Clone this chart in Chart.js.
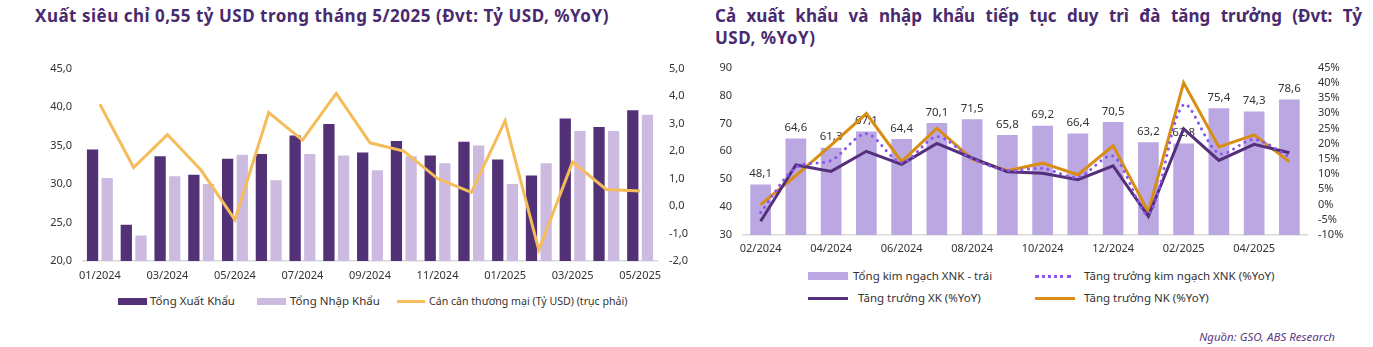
<!DOCTYPE html>
<html>
<head>
<meta charset="utf-8">
<script src="https://cdn.jsdelivr.net/npm/chart.js@4.4.1/dist/chart.umd.min.js"></script>
<style>
  html, body { margin: 0; padding: 0; background: #fff; }
  body { width: 1373px; height: 347px; position: relative; overflow: hidden; font-family: "Noto Sans", sans-serif; color: #333; }
  .title { position: absolute; font-weight: 700; font-size: 17px; letter-spacing: 0.5px; color: #4A2A6E; line-height: 22px; white-space: nowrap; }
  .cv { position: absolute; }
  .lg { position: absolute; font-size: 11px; line-height: 14px; white-space: nowrap; color: #333; }
  .lg.r { font-size: 11.5px; }
  .mk { position: absolute; }
  .src { position: absolute; right: 38px; top: 329px; font-size: 11.5px; font-style: italic; color: #5B3A85; }
</style>
</head>
<body>
<div class="title" style="left:35px; top:5px;">Xuất siêu chỉ 0,55 tỷ USD trong tháng 5/2025 (Đvt: Tỷ USD, %YoY)</div>
<div class="title" style="left:715px; top:5px; width:647px; letter-spacing:0; text-align:justify; text-align-last:justify;">Cả xuất khẩu và nhập khẩu tiếp tục duy trì đà tăng trưởng (Đvt: Tỷ</div>
<div class="title" style="left:715px; top:27px;">USD, %YoY)</div>

<canvas id="left" class="cv" style="left:0; top:50px;" width="700" height="240"></canvas>
<canvas id="right" class="cv" style="left:700px; top:50px;" width="673" height="215"></canvas>

<!-- left legend -->
<div class="mk" style="left:118px; top:298px; width:29px; height:7px; background:#533177;"></div>
<div class="lg" style="left:150px; top:294px; font-size:11.5px;">Tổng Xuất Khẩu</div>
<div class="mk" style="left:257px; top:298px; width:29px; height:7px; background:#CDBAE1;"></div>
<div class="lg" style="left:290px; top:294px; font-size:11.5px;">Tổng Nhập Khẩu</div>
<div class="mk" style="left:397px; top:300px; width:28px; height:3px; background:#F5BC5C;"></div>
<div class="lg" style="left:429px; top:294px; font-size:10.6px;">Cán cân thương mại (Tỷ USD) (trục phải)</div>

<!-- right legend -->
<div class="mk" style="left:808px; top:272px; width:40px; height:8px; background:#BBA7E2;"></div>
<div class="lg r" style="left:853px; top:269px;">Tổng kim ngạch XNK - trái</div>
<div class="mk" style="left:1035px; top:275px; width:36px; height:0; border-top:3px dotted #8A57EE;"></div>
<div class="lg r" style="left:1084px; top:269px;">Tăng trưởng kim ngạch XNK (%YoY)</div>
<div class="mk" style="left:808px; top:297px; width:40px; height:3px; background:#54307A;"></div>
<div class="lg r" style="left:858px; top:291px;">Tăng trưởng XK (%YoY)</div>
<div class="mk" style="left:1035px; top:297px; width:40px; height:3px; background:#D78E12;"></div>
<div class="lg r" style="left:1084px; top:291px;">Tăng trưởng NK (%YoY)</div>

<div class="src">Nguồn: GSO, ABS Research</div>

<script>
// left chart: monthly trade, bn USD
const monthsL = ["01/2024", "02/2024", "03/2024", "04/2024", "05/2024", "06/2024", "07/2024", "08/2024", "09/2024",
  "10/2024", "11/2024", "12/2024", "01/2025", "02/2025", "03/2025", "04/2025", "05/2025"];
const exportsL = [34.5, 24.7, 33.6, 31.2, 33.3, 33.9, 36.3, 37.8, 34.1, 35.6, 33.7, 35.5, 33.2, 31.1, 38.5, 37.4, 39.6];
const importsL = [30.8, 23.3, 31.0, 30.0, 33.8, 30.5, 33.9, 33.7, 31.8, 33.6, 32.7, 35.0, 30.0, 32.7, 36.9, 36.9, 39.0];
const balanceL = [3.7, 1.4, 2.6, 1.3, -0.5, 3.4, 2.4, 4.1, 2.3, 2.0, 1.0, 0.5, 3.1, -1.6, 1.6, 0.6, 0.55];

// right chart: total turnover + growth %YoY
const monthsR = ["02/2024", "03/2024", "04/2024", "05/2024", "06/2024", "07/2024", "08/2024", "09/2024",
  "10/2024", "11/2024", "12/2024", "01/2025", "02/2025", "03/2025", "04/2025", "05/2025"];
const totalR = [48.1, 64.6, 61.3, 67.1, 64.4, 70.1, 71.5, 65.8, 69.2, 66.4, 70.5, 63.2, 62.8, 75.4, 74.3, 78.6];
const growthXK = [-5.5, 13.0, 10.9, 17.5, 13.2, 20.1, 15.3, 10.8, 10.3, 8.2, 12.7, -3.9, 24.9, 14.5, 19.8, 17.0];
const growthNK = [0.0, 9.5, 19.5, 29.9, 14.1, 25.1, 14.9, 11.1, 13.6, 9.8, 19.3, -2.4, 40.0, 18.9, 22.9, 14.1];
const growthXNK = [-2.6, 12.2, 14.5, 23.3, 13.8, 22.3, 15.1, 11.2, 11.9, 9.0, 15.9, -3.1, 32.8, 16.8, 21.4, 15.7];

Chart.defaults.font.family = "'Noto Sans', sans-serif";
Chart.defaults.font.size = 11;
Chart.defaults.color = "#333";
Chart.defaults.animation = false;
Chart.defaults.plugins.legend.display = false;
Chart.defaults.plugins.tooltip.enabled = false;

const comma = (v, d) => v.toFixed(d).replace(".", ",");
const fixW = (w) => (s) => { s.width = w; };
const fixH = (h) => (s) => { s.height = h; };
const NOGRID = { display: false, drawTicks: false };

new Chart(document.getElementById("left"), {
  type: "bar",
  data: {
    labels: monthsL,
    datasets: [
      { type: "line", data: balanceL, yAxisID: "y1", borderColor: "#F5BC5C", borderWidth: 3, pointRadius: 0, tension: 0, order: 1 },
      { data: exportsL, backgroundColor: "#533177", categoryPercentage: 0.868, barPercentage: 0.77, order: 2 },
      { data: importsL, backgroundColor: "#CDBAE1", categoryPercentage: 0.868, barPercentage: 0.77, order: 2 },
    ],
  },
  options: {
    responsive: false,
    layout: { padding: { top: 12, bottom: 5, left: 0, right: 0 } },
    scales: {
      x: {
        grid: NOGRID,
        border: { display: true, color: "#D9D9D9", width: 1.5 },
        ticks: { autoSkip: false, maxRotation: 0, padding: 8, callback: (v, i) => (i % 2 === 0 ? monthsL[i] : "") },
        afterFit: fixH(24),
      },
      y: {
        min: 20, max: 45,
        grid: NOGRID, border: { display: false },
        ticks: { autoSkip: false, stepSize: 5, padding: 11, callback: (v) => comma(v, 1) },
        afterFit: fixW(83),
      },
      y1: {
        position: "right", min: -2, max: 5,
        grid: NOGRID, border: { display: false },
        ticks: { autoSkip: false, stepSize: 1, padding: 12, callback: (v) => comma(v, 1) },
        afterFit: fixW(43),
      },
    },
  },
});

// value labels above the turnover bars, drawn before the lines so they sit under them
const barLabels = {
  id: "barLabels",
  afterDatasetDraw(chart, args) {
    if (args.index !== 3) return;
    const { ctx } = chart;
    ctx.save();
    ctx.font = "11.5px 'Noto Sans', sans-serif";
    ctx.fillStyle = "#333";
    ctx.textAlign = "center";
    ctx.textBaseline = "bottom";
    args.meta.data.forEach((bar, i) => {
      ctx.fillText(comma(totalR[i], 1), bar.x, bar.y - 5);
    });
    ctx.restore();
  },
};

new Chart(document.getElementById("right"), {
  type: "bar",
  data: {
    labels: monthsR,
    datasets: [
      { type: "line", data: growthXNK, yAxisID: "y1", borderColor: "#8A57EE", borderWidth: 3, borderDash: [0.1, 6.5], borderCapStyle: "round", pointRadius: 0, tension: 0.3, order: 1 },
      { type: "line", data: growthXK, yAxisID: "y1", borderColor: "#54307A", borderWidth: 3, pointRadius: 0, tension: 0, order: 1 },
      { type: "line", data: growthNK, yAxisID: "y1", borderColor: "#D78E12", borderWidth: 3, pointRadius: 0, tension: 0, order: 1 },
      { data: totalR, backgroundColor: "#BBA7E2", categoryPercentage: 1, barPercentage: 0.587, order: 2 },
    ],
  },
  options: {
    responsive: false,
    layout: { padding: { top: 12, bottom: 6, left: 0, right: 0 } },
    scales: {
      x: {
        grid: NOGRID,
        border: { display: true, color: "#D9D9D9", width: 1.5 },
        ticks: { autoSkip: false, maxRotation: 0, padding: 7, callback: (v, i) => (i % 2 === 0 ? monthsR[i] : "") },
        afterFit: fixH(24),
      },
      y: {
        min: 30, max: 90,
        grid: NOGRID, border: { display: false },
        ticks: { autoSkip: false, stepSize: 10, padding: 11 },
        afterFit: fixW(43),
      },
      y1: {
        position: "right", min: -10, max: 45,
        grid: NOGRID, border: { display: false },
        ticks: { autoSkip: false, stepSize: 5, padding: 11, callback: (v) => v + "%" },
        afterFit: fixW(66),
      },
    },
  },
  plugins: [barLabels],
});
</script>
</body>
</html>
